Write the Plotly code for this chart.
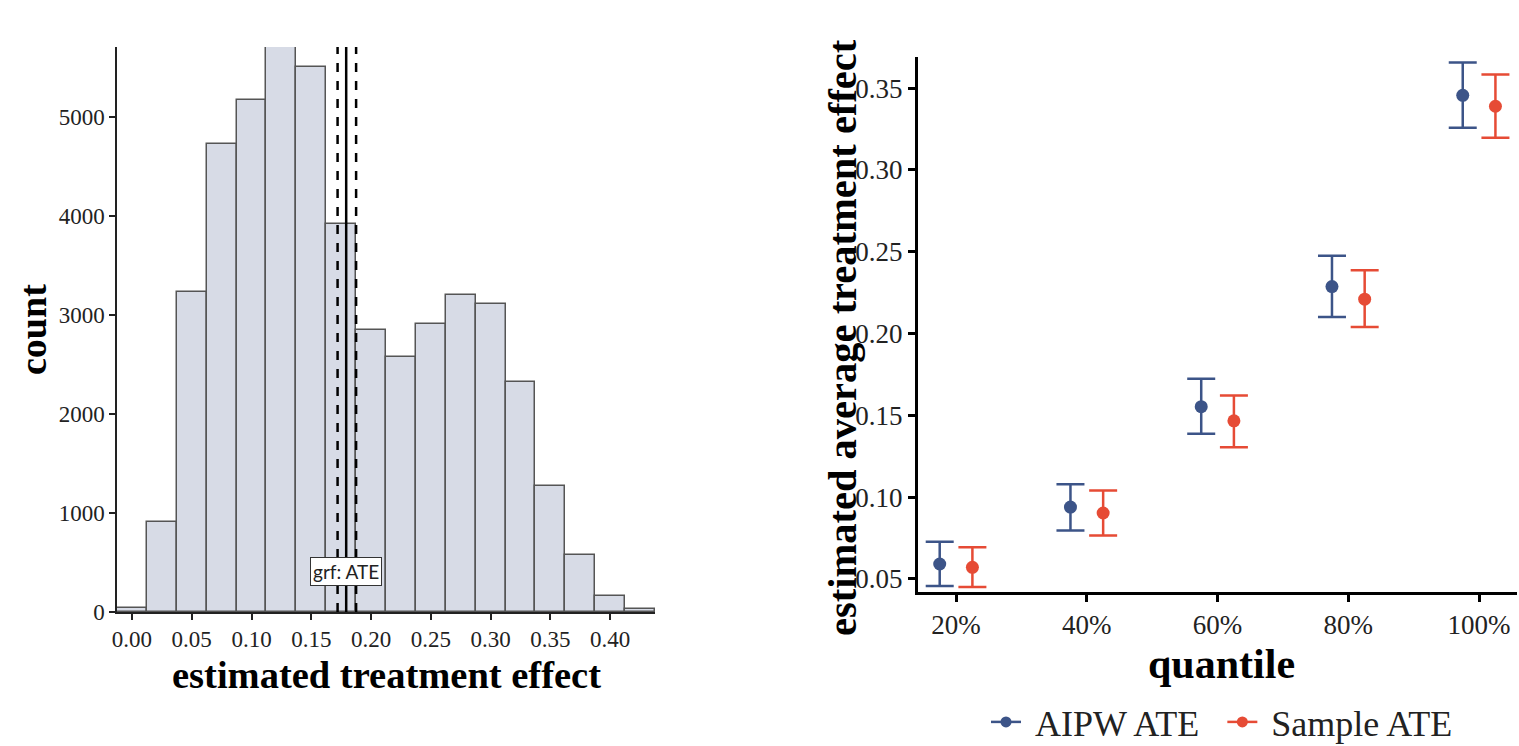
import plotly.graph_objects as go

# ---------------- data ----------------
bin_centers = [0.000, 0.025, 0.050, 0.075, 0.100, 0.125, 0.150, 0.175, 0.200,
               0.225, 0.250, 0.275, 0.300, 0.325, 0.350, 0.375, 0.400, 0.425]
bin_counts = [44, 905, 3229, 4727, 5175, 5708, 5506, 3917, 2848,
              2573, 2909, 3202, 3111, 2321, 1276, 578, 165, 27]
bin_width = 0.025

ate_value = 0.1792
ate_lower = 0.1720
ate_upper = 0.1875

quantile_labels = ["20%", "40%", "60%", "80%", "100%"]
quantile_pos = [1, 2, 3, 4, 5]
dodge = 0.125

aipw_est = [0.0591, 0.0939, 0.1553, 0.2287, 0.3456]
aipw_low = [0.0457, 0.0796, 0.1387, 0.2101, 0.3257]
aipw_high = [0.0727, 0.1079, 0.1723, 0.2475, 0.3656]

sample_est = [0.0571, 0.0903, 0.1466, 0.2210, 0.3389]
sample_low = [0.0451, 0.0765, 0.1304, 0.2040, 0.3197]
sample_high = [0.0694, 0.1040, 0.1621, 0.2386, 0.3583]

series_names = ["AIPW ATE", "Sample ATE"]

# ---------------- figure ----------------
W, H = 1519, 746
SERIF = "Liberation Serif, Times New Roman, serif"
BLUE = "#3C5488"
RED = "#E64B35"
NB = "\u00a0"

fig = go.Figure()

# histogram bars
fig.add_trace(go.Bar(
    x=bin_centers, y=bin_counts, width=[bin_width] * len(bin_centers),
    marker=dict(color="#d7dbe6", line=dict(color="#555555", width=1.5)),
    xaxis="x", yaxis="y", showlegend=False, hoverinfo="x+y",
))

# ATE vertical lines
ymax_hist = max(bin_counts)
for xv, dash in [(ate_lower, "dash"), (ate_upper, "dash"), (ate_value, "solid")]:
    fig.add_trace(go.Scatter(
        x=[xv, xv], y=[0, ymax_hist], mode="lines",
        line=dict(color="black", width=2.5, dash=dash),
        xaxis="x", yaxis="y", showlegend=False, hoverinfo="skip",
    ))

# right panel: error bars + points
def add_series(est, low, high, shift, color, name, legend_label):
    xs = [p + shift for p in quantile_pos]
    fig.add_trace(go.Scatter(
        x=xs, y=est, mode="markers",
        marker=dict(color=color, size=13),
        error_y=dict(type="data", symmetric=False,
                     array=[h - e for h, e in zip(high, est)],
                     arrayminus=[e - l for e, l in zip(est, low)],
                     color=color, thickness=2.5, width=14),
        xaxis="x2", yaxis="y2", showlegend=False, name=name,
    ))
    # legend entry
    fig.add_trace(go.Scatter(
        x=[None], y=[None], mode="lines+markers",
        marker=dict(color=color, size=11),
        line=dict(color=color, width=2.5),
        xaxis="x2", yaxis="y2", showlegend=True, name=legend_label,
    ))

add_series(aipw_est, aipw_low, aipw_high, -dodge, BLUE, series_names[0],
           NB + series_names[0] + NB + NB)
add_series(sample_est, sample_low, sample_high, dodge, RED, series_names[1],
           NB + series_names[1])

def px_x(p):
    return p / W

def px_y(p):
    return 1 - p / H

fig.update_layout(
    width=W, height=H,
    margin=dict(l=0, r=0, t=0, b=0, autoexpand=False),
    paper_bgcolor="white", plot_bgcolor="white",
    font=dict(family=SERIF, color="black"),
    bargap=0,
    xaxis=dict(
        domain=[px_x(117), px_x(655)], anchor="y",
        range=[-0.0125, 0.4375],
        tickvals=[0, 0.05, 0.10, 0.15, 0.20, 0.25, 0.30, 0.35, 0.40],
        ticktext=["0.00", "0.05", "0.10", "0.15", "0.20", "0.25", "0.30", "0.35", "0.40"],
        ticks="outside", ticklen=6, tickwidth=1.5, tickcolor="#222",
        showline=True, linecolor="#222", linewidth=1.5,
        showgrid=False, zeroline=False,
        tickfont=dict(family=SERIF, size=23, color="#222"),
    ),
    yaxis=dict(
        domain=[px_y(612), px_y(47)], anchor="x",
        range=[0, 5708],
        tickvals=[0, 1000, 2000, 3000, 4000, 5000],
        ticks="outside", ticklen=6, tickwidth=1.5, tickcolor="#222",
        showline=True, linecolor="#222", linewidth=1.5,
        showgrid=False, zeroline=False,
        tickfont=dict(family=SERIF, size=23, color="#222"),
    ),
    xaxis2=dict(
        domain=[px_x(918), px_x(1517)], anchor="y2",
        range=[0.709, 5.29],
        tickvals=quantile_pos, ticktext=quantile_labels,
        ticks="outside", ticklen=7, tickwidth=2.5, tickcolor="black",
        showline=True, linecolor="black", linewidth=3,
        showgrid=False, zeroline=False,
        tickfont=dict(family=SERIF, size=27, color="#222"),
    ),
    yaxis2=dict(
        domain=[px_y(592), px_y(57)], anchor="x2",
        range=[0.042, 0.369],
        tickvals=[0.05, 0.10, 0.15, 0.20, 0.25, 0.30, 0.35],
        ticktext=["0.05", "0.10", "0.15", "0.20", "0.25", "0.30", "0.35"],
        ticks="outside", ticklen=7, tickwidth=2.5, tickcolor="black",
        showline=True, linecolor="black", linewidth=3,
        showgrid=False, zeroline=False,
        tickfont=dict(family=SERIF, size=27, color="#222"),
    ),
    legend=dict(
        orientation="h", x=px_x(1222), y=px_y(722),
        xanchor="center", yanchor="middle",
        font=dict(family=SERIF, size=36, color="#222"),
        itemwidth=30, bgcolor="rgba(0,0,0,0)",
    ),
    annotations=[
        dict(text="grf: ATE", x=ate_value, y=409, xref="x", yref="y",
             showarrow=False, font=dict(family="Lato, Open Sans, sans-serif", size=19, color="#222"),
             bgcolor="white", bordercolor="#333", borderwidth=1, borderpad=2),
        dict(text="<b>count</b>", x=px_x(33), y=px_y(330), xref="paper", yref="paper",
             showarrow=False, textangle=-90, font=dict(family=SERIF, size=38, color="black"),
             xanchor="center", yanchor="middle"),
        dict(text="<b>estimated treatment effect</b>", x=px_x(386), y=px_y(675),
             xref="paper", yref="paper", showarrow=False,
             font=dict(family=SERIF, size=38.5, color="black"),
             xanchor="center", yanchor="middle"),
        dict(text="<b>estimated average treatment effect</b>", x=px_x(842), y=px_y(338),
             xref="paper", yref="paper", showarrow=False, textangle=-90,
             font=dict(family=SERIF, size=40.5, color="black"),
             xanchor="center", yanchor="middle"),
        dict(text="<b>quantile</b>", x=px_x(1221), y=px_y(664),
             xref="paper", yref="paper", showarrow=False,
             font=dict(family=SERIF, size=42, color="black"),
             xanchor="center", yanchor="middle"),
    ],
)

fig.write_html("out.html")
